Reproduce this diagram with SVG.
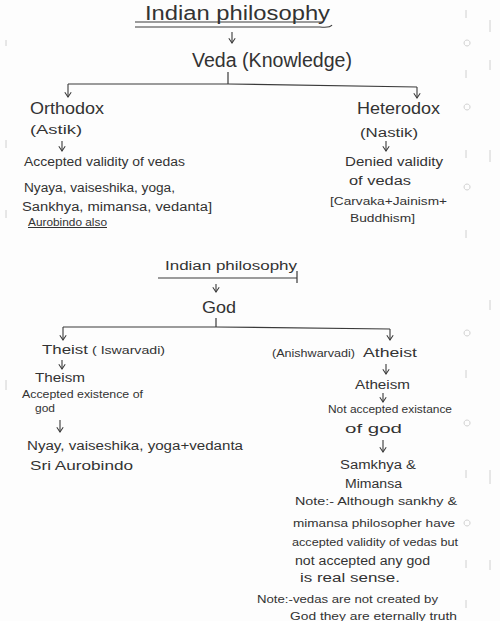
<svg xmlns="http://www.w3.org/2000/svg" width="500" height="621" viewBox="0 0 500 621">
<defs>
<marker id="ah" viewBox="0 0 10 10" refX="9" refY="5" markerWidth="8" markerHeight="8" orient="auto" markerUnits="userSpaceOnUse">
<path d="M3,1 L9,5 L3,9" fill="none" stroke="#3a3a3a" stroke-width="1.3"/>
</marker>
<style>
text{font-family:"Liberation Sans","DejaVu Sans",sans-serif;fill:#333}
.ln{stroke:#3a3a3a;stroke-width:1.2;fill:none}
.ar{stroke:#3a3a3a;stroke-width:1.1;fill:none;marker-end:url(#ah)}
.mk{stroke:#d0d0d0;stroke-width:1;fill:none}
.h1{font-size:20px}
.h2{font-size:16px}
.t{font-size:12px}
.s{font-size:10px}
</style>
</defs>
<rect width="500" height="621" fill="#fdfdfd"/>
<g id="margin">
<path class="mk" d="M466,10 v8 M467,40 a3,3 0 1,0 0.1,0 M466,70 v8 M467,104 a3,3 0 1,0 0.1,0 M466,150 v8 M467,184 a3,3 0 1,0 0.1,0 M466,230 v8 M467,330 a3,3 0 1,0 0.1,0 M466,370 v8 M467,420 a3,3 0 1,0 0.1,0 M466,470 v8 M467,520 a3,3 0 1,0 0.1,0 M466,560 v8 M466,600 v8"/>
<path class="mk" d="M490,20 v12 M490,60 v10 M490,150 v12 M490,300 v10 M490,470 v14 M490,560 v10"/>
<path class="mk" d="M6,40 v6 M6,140 v8 M6,210 v8 M6,380 v10"/>
</g>
<g id="connectors">
<path class="ln" d="M135,22 L322,22"/>
<path class="ln" d="M135,27 L320,27 Q330,28 332,25"/>
<path class="ar" d="M232,32 L232,43"/>
<path class="ln" d="M228,72 L228,84"/>
<path class="ln" d="M68,84 L228,84 L417,87"/>
<path class="ar" d="M68,84 L68,97"/>
<path class="ar" d="M417,87 L417,98"/>
<path class="ar" d="M62,141 L62,151"/>
<path class="ar" d="M386,141 L386,151"/>
<path class="ln" d="M158,278 L297,278 M297,271 L297,283"/>
<path class="ar" d="M216,284 L216,292"/>
<path class="ln" d="M216,318 L216,327"/>
<path class="ln" d="M63,327 L216,327 L390,329"/>
<path class="ar" d="M63,327 L63,340"/>
<path class="ar" d="M390,329 L390,340"/>
<path class="ar" d="M62,360 L62,369"/>
<path class="ar" d="M386,364 L386,374"/>
<path class="ar" d="M383,393 L383,402"/>
<path class="ar" d="M60,420 L60,432"/>
<path class="ar" d="M383,440 L383,452"/>
</g>
<g id="title1"><text class="h1" x="145" y="20" textLength="185" lengthAdjust="spacingAndGlyphs">Indian philosophy</text></g>
<g id="veda"><text class="h1" x="192" y="67" textLength="160" lengthAdjust="spacingAndGlyphs">Veda (Knowledge)</text></g>
<g id="orthodox">
<text class="h2" x="30" y="114" textLength="74" lengthAdjust="spacingAndGlyphs">Orthodox</text>
<text class="t" x="30" y="134" textLength="52" lengthAdjust="spacingAndGlyphs">(Astik)</text>
</g>
<g id="orthodox-detail">
<text class="t" x="24" y="166" textLength="161" lengthAdjust="spacingAndGlyphs">Accepted validity of vedas</text>
<text class="t" x="24" y="192" textLength="151" lengthAdjust="spacingAndGlyphs">Nyaya, vaiseshika, yoga,</text>
<text class="t" x="22" y="211" textLength="190" lengthAdjust="spacingAndGlyphs">Sankhya, mimansa, vedanta]</text>
<text class="s" x="28" y="226" textLength="79" lengthAdjust="spacingAndGlyphs" text-decoration="underline">Aurobindo also</text>
</g>
<g id="heterodox">
<text class="h2" x="357" y="114" textLength="83" lengthAdjust="spacingAndGlyphs">Heterodox</text>
<text class="t" x="360" y="137" textLength="58" lengthAdjust="spacingAndGlyphs">(Nastik)</text>
</g>
<g id="heterodox-detail">
<text class="t" x="345" y="166" textLength="98" lengthAdjust="spacingAndGlyphs">Denied validity</text>
<text class="t" x="349" y="185" textLength="62" lengthAdjust="spacingAndGlyphs">of vedas</text>
<text class="s" x="330" y="205" textLength="117" lengthAdjust="spacingAndGlyphs">[Carvaka+Jainism+</text>
<text class="s" x="350" y="222" textLength="65" lengthAdjust="spacingAndGlyphs">Buddhism]</text>
</g>
<g id="title2"><text class="t" x="165" y="270" textLength="132" lengthAdjust="spacingAndGlyphs">Indian philosophy</text></g>
<g id="god"><text class="h2" x="202" y="313" textLength="34" lengthAdjust="spacingAndGlyphs">God</text></g>
<g id="theist">
<text class="t" x="42" y="354" textLength="46" lengthAdjust="spacingAndGlyphs">Theist</text>
<text class="s" x="92" y="354" textLength="73" lengthAdjust="spacingAndGlyphs">( Iswarvadi)</text>
</g>
<g id="theism">
<text class="t" x="35" y="382" textLength="50" lengthAdjust="spacingAndGlyphs">Theism</text>
<text class="s" x="22" y="398" textLength="121" lengthAdjust="spacingAndGlyphs">Accepted existence of</text>
<text class="s" x="35" y="412" textLength="20" lengthAdjust="spacingAndGlyphs">god</text>
</g>
<g id="theist-schools">
<text class="t" x="27" y="450" textLength="216" lengthAdjust="spacingAndGlyphs">Nyay, vaiseshika, yoga+vedanta</text>
<text class="t" x="30" y="470" textLength="103" lengthAdjust="spacingAndGlyphs">Sri Aurobindo</text>
</g>
<g id="atheist">
<text class="s" x="272" y="357" textLength="83" lengthAdjust="spacingAndGlyphs">(Anishwarvadi)</text>
<text class="t" x="363" y="357" textLength="54" lengthAdjust="spacingAndGlyphs">Atheist</text>
</g>
<g id="atheism">
<text class="t" x="355" y="389" textLength="55" lengthAdjust="spacingAndGlyphs">Atheism</text>
<text class="s" x="328" y="413" textLength="124" lengthAdjust="spacingAndGlyphs">Not accepted existance</text>
<text class="t" x="345" y="433" textLength="57" lengthAdjust="spacingAndGlyphs">of god</text>
</g>
<g id="atheist-schools">
<text class="t" x="340" y="469" textLength="76" lengthAdjust="spacingAndGlyphs">Samkhya &amp;</text>
<text class="t" x="345" y="488" textLength="57" lengthAdjust="spacingAndGlyphs">Mimansa</text>
</g>
<g id="note1">
<text class="s" x="295" y="505" textLength="162" lengthAdjust="spacingAndGlyphs">Note:- Although sankhy &amp;</text>
<text class="s" x="293" y="527" textLength="162" lengthAdjust="spacingAndGlyphs">mimansa philosopher have</text>
<text class="s" x="292" y="546" textLength="166" lengthAdjust="spacingAndGlyphs">accepted validity of vedas but</text>
<text class="t" x="295" y="565" textLength="135" lengthAdjust="spacingAndGlyphs">not accepted any god</text>
<text class="t" x="300" y="582" textLength="100" lengthAdjust="spacingAndGlyphs">is real sense.</text>
</g>
<g id="note2">
<text class="s" x="257" y="603" textLength="181" lengthAdjust="spacingAndGlyphs">Note:-vedas are not created by</text>
<text class="s" x="290" y="620" textLength="167" lengthAdjust="spacingAndGlyphs">God they are eternally truth</text>
</g>
</svg>
